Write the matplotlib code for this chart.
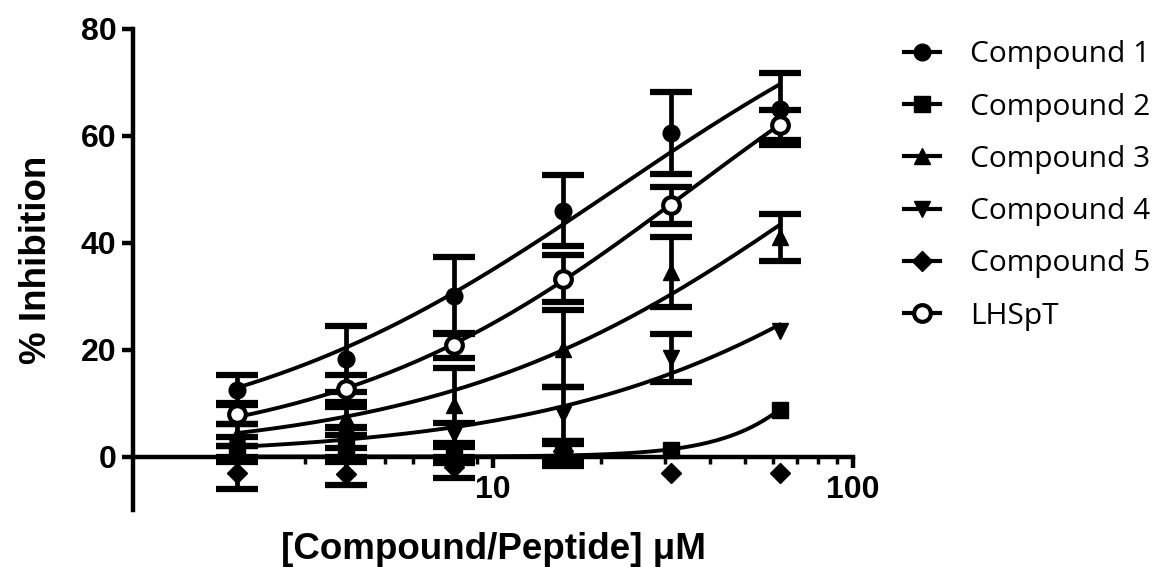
import numpy as np
import matplotlib
matplotlib.use("Agg")
import matplotlib.pyplot as plt
from matplotlib.lines import Line2D

# concentrations (uM)
conc = [1.95, 3.9, 7.8, 15.6, 31.25, 62.5]

# mean % inhibition and SEM (0 = bar hidden behind symbol)
c1 = [12.4, 18.3, 30.1, 46.0, 60.5, 65.0]
c1_err = [2.8, 6.2, 7.2, 6.6, 7.7, 6.8]
c2 = [0.5, 2.0, 0.3, 0.3, 1.3, 8.8]
c2_err = [1.5, 2.0, 1.5, 2.0, 0.0, 0.0]
c3 = [4.0, 7.3, 9.6, 20.2, 34.5, 41.0]
c3_err = [2.0, 2.0, 7.0, 7.2, 6.6, 4.4]
c4 = [1.7, 3.6, 4.3, 8.0, 18.5, 23.5]
c4_err = [2.0, 2.0, 2.0, 5.0, 4.5, 0.0]
c5 = [-3.0, -3.2, -2.0, 1.0, -3.0, -3.0]
c5_err = [3.0, 2.2, 2.0, 2.0, 0.0, 0.0]
lhspt = [8.0, 12.7, 20.8, 33.3, 47.0, 62.0]
lhspt_err = [2.0, 2.5, 2.3, 4.4, 3.4, 2.8]

labels = ["Compound 1", "Compound 2", "Compound 3", "Compound 4", "Compound 5", "LHSpT"]


def fit_hill(x, y):
    # normalized response: y = 100 / (1 + (ec50/x)^h), grid search over ec50 and h
    lx = np.log10(np.asarray(x))[None, None, :]
    y = np.asarray(y)[None, None, :]
    le = np.linspace(0, 4, 401)[:, None, None]
    h = np.linspace(0.3, 5, 471)[None, :, None]
    pred = 100.0 / (1.0 + 10 ** ((le - lx) * h))
    err = ((pred - y) ** 2).sum(-1)
    i, j = np.unravel_index(np.argmin(err), err.shape)
    return le[i, 0, 0], h[0, j, 0]


fig = plt.figure(figsize=(11.54, 5.67), dpi=100)
ax = fig.add_axes([0.1153, 0.1005, 0.6239, 0.8484])

series = [
    (c1, c1_err, dict(marker="o", ms=12, mfc="black"), True),
    (c2, c2_err, dict(marker="s", ms=12, mfc="black"), True),
    (c3, c3_err, dict(marker="^", ms=12, mfc="black"), True),
    (c4, c4_err, dict(marker="v", ms=12, mfc="black"), True),
    (c5, c5_err, dict(marker="D", ms=10, mfc="black"), False),
    (lhspt, lhspt_err, dict(marker="o", ms=12, mfc="white", mew=3), True),
]

xs = np.logspace(np.log10(conc[0]), np.log10(conc[-1]), 200)
for vals, errs, mk, has_curve in series:
    x_arr, v_arr, e_arr = np.array(conc), np.array(vals), np.array(errs)
    show = e_arr > 0
    ax.errorbar(x_arr[show], v_arr[show], yerr=e_arr[show], fmt="none",
                ecolor="black", elinewidth=3.4, capsize=15, capthick=4.5, zorder=3)
    if has_curve:
        le, h = fit_hill(conc, vals)
        ax.plot(xs, 100.0 / (1 + 10 ** ((le - np.log10(xs)) * h)),
                color="black", lw=2.8, zorder=2)
    ax.plot(conc, vals, linestyle="none", color="black", mec="black", zorder=4, **mk)

ax.set_xscale("log")
ax.set_xlim(1, 100)
ax.set_ylim(-10, 80)
ax.set_xticks([10, 100])
ax.set_xticklabels(["10", "100"])
ax.set_yticks([0, 20, 40, 60, 80])

for s in ["top", "right"]:
    ax.spines[s].set_visible(False)
ax.spines["bottom"].set_position(("data", 0))
ax.spines["left"].set_linewidth(3.2)
ax.spines["bottom"].set_linewidth(3.2)
ax.tick_params(axis="both", which="major", width=3.2, length=8, labelsize=23,
               direction="out")
ax.tick_params(axis="x", which="minor", width=2.5, length=5, direction="out")
ax.tick_params(axis="x", pad=5)
ax.tick_params(axis="y", pad=4)
for t in ax.get_xticklabels() + ax.get_yticklabels():
    t.set_fontfamily("Liberation Sans")
    t.set_fontweight("bold")

ax.set_ylabel("% Inhibition", fontsize=26.5, fontweight="bold",
              family="Liberation Sans")
ax.yaxis.set_label_coords(-0.11, 0.52)
ax.set_xlabel("[Compound/Peptide] \u03bcM", fontsize=26.5, fontweight="bold",
              family="Liberation Sans")
ax.xaxis.set_label_coords(0.5, -0.045)

handles = []
for vals, errs, mk, _ in series:
    handles.append(Line2D([], [], color="black", lw=3, mec="black", **mk))
fig.legend(handles, labels, loc="upper left", bbox_to_anchor=(0.773, 0.95),
           frameon=False, prop={"family": "Open Sans", "size": 21.5},
           handlelength=1.2, handletextpad=1.0, labelspacing=0.78,
           borderaxespad=0)

fig.savefig("out.png", dpi=100)
